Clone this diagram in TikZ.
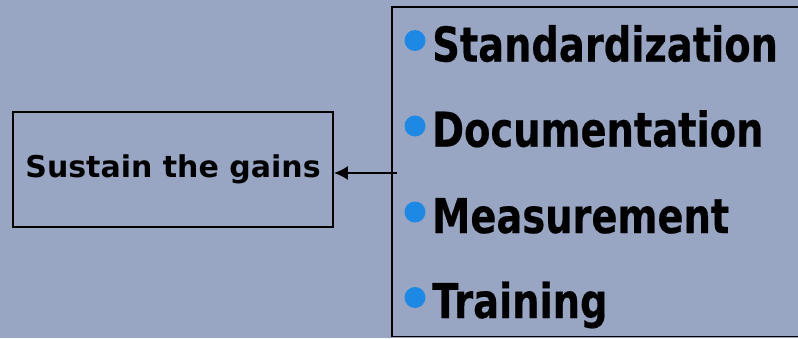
\documentclass[tikz,border=0pt]{standalone}
\usepackage{fontspec}
\usetikzlibrary{arrows.meta}
\setmainfont{DejaVu Sans}
\newfontfamily\narrowfont[FakeStretch=0.8,BoldFeatures={FakeBold=0.4}]{DejaVu Sans}
\definecolor{slidebg}{RGB}{152,166,195}
\definecolor{bulletblue}{RGB}{30,136,229}
\tikzset{
  frame/.style={draw=black, line width=1.8pt, inner sep=0pt},
  itemtext/.style={anchor=base west, inner sep=0pt, font=\narrowfont\bfseries\fontsize{48}{48}\selectfont},
  bulletdot/.style={circle, fill=bulletblue, minimum size=21pt, inner sep=0pt},
  link/.style={line width=2pt, -{Latex[length=14pt,width=14pt]}}
}
\begin{document}
\begin{tikzpicture}[x=1pt,y=-1pt]
  % page area
  \fill[slidebg] (0,0) rectangle (798,338);
  \useasboundingbox (0,0) rectangle (798,338);

  % left box
  \node[frame, minimum width=320pt, minimum height=115pt,
        font=\bfseries\fontsize{30}{30}\selectfont] (sustain) at (173,169.5) {Sustain the gains};

  % right box (runs past the right border)
  \begin{scope}
    \clip (0,0) rectangle (798,338);
    \node[frame, anchor=north west, minimum width=430pt, minimum height=329.5pt] (list) at (391,6) {};
  \end{scope}

  % bullet list
  \node[bulletdot] (b1) at (415,40.5) {};
  \node[itemtext] (t1) at (432,61.5) {Standardization};
  \node[bulletdot] (b2) at (415,126) {};
  \node[itemtext] (t2) at (432,146.7) {Documentation};
  \node[bulletdot] (b3) at (415,212) {};
  \node[itemtext] (t3) at (432,233) {Measurement};
  \node[bulletdot] (b4) at (415,297.5) {};
  \node[itemtext] (t4) at (432,318) {Training};

  % connector
  \coordinate (src) at (397,173);
  \draw[link] (src) -- (sustain.east |- src);
\end{tikzpicture}
\end{document}
